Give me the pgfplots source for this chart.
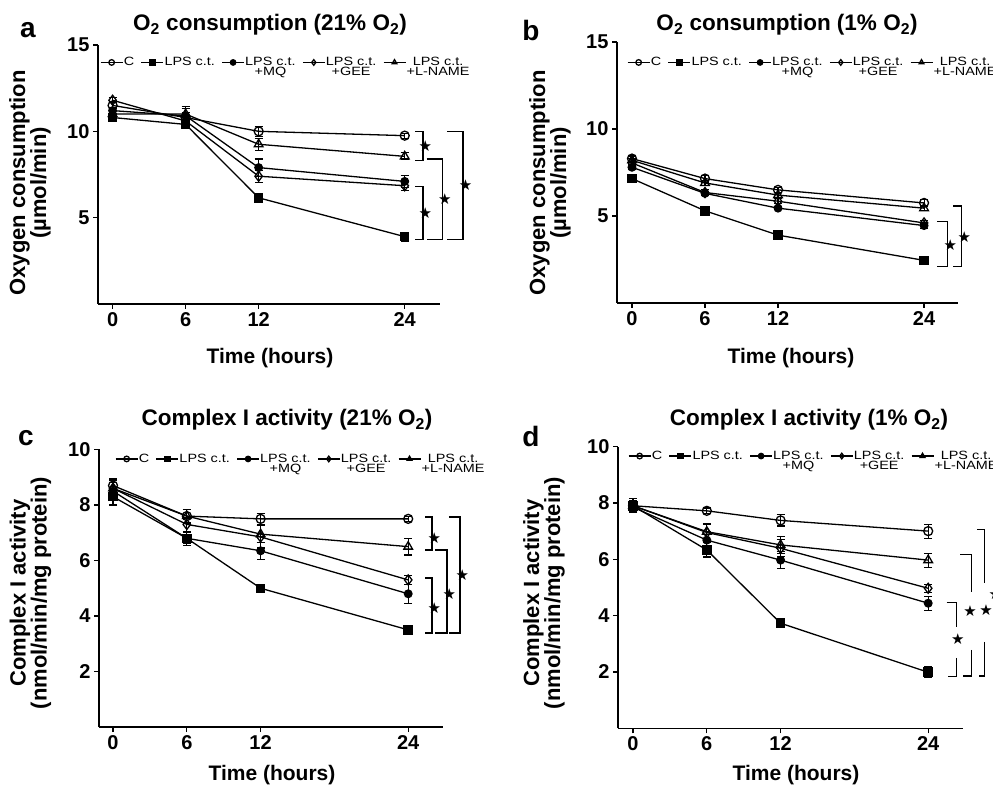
\documentclass[border=0pt]{standalone}
\usepackage{fontspec}
\setmainfont{Liberation Sans}
\newfontfamily\djv{DejaVu Sans}
\newfontfamily\legfont[FakeStretch=1.2]{Liberation Sans}
\usepackage{pgfplots}
\usepackage{pgfplotstable}
\pgfplotsset{compat=1.18}

\newcommand\two[2]{\begin{tabular}[t]{@{}c@{}}#1\\[-2pt]#2\end{tabular}}
\newcommand\st{{\djv\fontsize{15}{15}\selectfont ★}}
% bracket: x1, x2, ytop, ybot, ystar
\newcommand\brk[5]{%
  \draw[line width=1.3pt] (axis cs:#1,#3) -- (axis cs:#2,#3) -- (axis cs:#2,#4) -- (axis cs:#1,#4);
  \node[inner sep=0pt] at (axis cs:#2,#5) [xshift=2.5pt] {\st};}

% t, C, LPS, MQ, GEE, L-NAME (value, error)
\pgfplotstableread{
t  c    ce   l    le   m    me   g    ge   n    ne
0  11.5 0.2  10.8 0.2  11.2 0.2  11.8 0.15 11.0 0.2
6  10.8 0.3  10.4 0.2  10.9 0.55 10.6 0.3  11.0 0.3
12 10.0 0.3  6.15 0.25 7.9  0.5  7.4  0.35 9.25 0.35
24 9.75 0.15 3.9  0.25 7.1  0.35 6.85 0.3  8.55 0.2
}\dataA
\pgfplotstableread{
t  c    ce   l    le   m    me   g    ge   n    ne
0  8.3  0.15 7.15 0.1  7.8  0.1  8.05 0.1  8.2  0.1
6  7.15 0.2  5.3  0.25 6.3  0.1  6.35 0.15 6.9  0.15
12 6.5  0.15 3.9  0.1  5.45 0.1  5.85 0.15 6.2  0.15
24 5.75 0.2  2.45 0.1  4.45 0.15 4.6  0.15 5.45 0.15
}\dataB
\pgfplotstableread{
t  c    ce   l    le   m    me   g    ge   n    ne
0  8.7  0.25 8.3  0.3  8.5  0.3  8.6  0.2  8.6  0.3
6  7.6  0.25 6.8  0.25 6.8  0.2  7.3  0.25 7.6  0.25
12 7.5  0.2  5.0  0.15 6.35 0.3  6.85 0.4  6.95 0.3
24 7.5  0.1  3.5  0.15 4.8  0.35 5.3  0.15 6.5  0.3
}\dataC
\pgfplotstableread{
t  c    ce   l    le   m    me   g    ge   n    ne
0  7.9  0.2  7.9  0.25 7.85 0.2  7.9  0.2  7.9  0.2
6  7.72 0.1  6.33 0.25 6.68 0.3  6.95 0.3  6.98 0.3
12 7.38 0.2  3.73 0.15 5.97 0.3  6.39 0.3  6.51 0.3
24 7.0  0.25 1.99 0.2  4.44 0.25 4.97 0.15 5.97 0.25
}\dataD

\pgfplotsset{
  panel/.style={
    scale only axis, anchor=south west, clip=false,
    axis lines=left, axis line style={-, line width=1.5pt},
    tick align=outside, major tick length=5pt,
    tick style={line width=1.3pt, black},
    xtick={0,6,12,24},
    ticklabel style={font=\fontsize{20}{20}\selectfont\bfseries},
    /pgf/number format/assume math mode=true,
    legend columns=5,
    legend cell align=left,
    legend style={draw=none, fill=none, inner sep=0pt, outer sep=0pt,
      font=\legfont\fontsize{12}{12}\selectfont,
      at={(axis description cs:0,1)}, anchor=north west,
      nodes={inner sep=0.5pt},
      /tikz/every even column/.append style={column sep=6pt}},
    legend image code/.code={\draw[mark repeat=2, mark phase=2, ##1, mark size=2.8pt]
      plot coordinates {(0pt,0pt) (11pt,0pt) (22pt,0pt)};},
  },
  ser/.style={black, line width=1.3pt, mark options={solid, line width=1.1pt},
    error bars/y dir=both, error bars/y explicit,
    error bars/error bar style={line width=1.1pt},
    error bars/error mark options={rotate=90, mark size=4pt, line width=1.1pt}},
  sC/.style={ser, mark=o, mark size=4.5pt, mark options={fill=white}},
  sL/.style={ser, mark=square*, mark size=4.2pt},
  sM/.style={ser, mark=*, mark size=3.9pt},
  sG/.style={ser, mark=diamond, mark size=5pt, mark options={fill=white}},
  sN/.style={ser, mark=triangle, mark size=5pt, mark options={fill=white}},
}

\newcommand\allplots[1]{%
  \addplot[sC] table[x=t, y=c, y error=ce] {#1};
  \addplot[sL] table[x=t, y=l, y error=le] {#1};
  \addplot[sM] table[x=t, y=m, y error=me] {#1};
  \addplot[sG] table[x=t, y=g, y error=ge] {#1};
  \addplot[sN] table[x=t, y=n, y error=ne] {#1};
  \legend{C, LPS c.t., \two{LPS c.t.}{+MQ}, \two{LPS c.t.}{+GEE}, \two{LPS c.t.}{+L-NAME}}}

\begin{document}
\begin{tikzpicture}

% a
\begin{axis}[panel, at={(98pt,481pt)}, width=342pt, height=259pt,
  xmin=-1.2, xmax=26.9, ymin=0, ymax=15, ytick={5,10,15},
  legend style={xshift=2pt, yshift=-12pt}]
\allplots{\dataA}
\brk{24.85}{25.5}{10.0}{8.3}{9.15}
\brk{24.85}{25.5}{6.8}{3.75}{5.25}
\brk{25.8}{27.1}{8.4}{3.75}{6.05}
\brk{27.5}{28.8}{10.0}{3.75}{6.9}
\end{axis}

% b
\begin{axis}[panel, at={(617pt,482pt)}, width=341pt, height=261pt,
  xmin=-1.23, xmax=26.79, ymin=0, ymax=15, ytick={5,10,15},
  legend style={xshift=10pt, yshift=-15pt}]
\allplots{\dataB}
\brk{25.1}{25.95}{4.7}{2.1}{3.33}
\brk{26.4}{27.1}{5.57}{2.1}{3.81}
\end{axis}

% c
\begin{axis}[panel, at={(99pt,58pt)}, width=344pt, height=277.5pt,
  xmin=-1.14, xmax=26.83, ymin=0, ymax=10, ytick={2,4,6,8,10},
  legend style={xshift=16pt, yshift=-4pt}]
\allplots{\dataC}
\brk{25.37}{25.93}{7.57}{6.38}{6.81}
\brk{25.37}{25.93}{5.37}{3.39}{4.29}
\brk{26.2}{27.15}{6.38}{3.39}{4.79}
\brk{27.3}{28.2}{7.57}{3.39}{5.48}
\end{axis}

% d
\begin{axis}[panel, at={(618pt,56.7pt)}, width=345pt, height=281.7pt,
  xmin=-1.22, xmax=26.83, ymin=0, ymax=10, ytick={2,4,6,8,10},
  legend style={xshift=10pt, yshift=-4pt}]
\allplots{\dataD}
\draw[line width=1.3pt] (axis cs:25.5,4.46) -- (axis cs:26.3,4.46) -- (axis cs:26.3,3.61);
\draw[line width=1.3pt] (axis cs:26.3,2.5) -- (axis cs:26.3,1.83) -- (axis cs:25.6,1.83);
\node[inner sep=0pt] at (axis cs:26.4,3.17) {\st};
\draw[line width=1.3pt] (axis cs:26.6,6.18) -- (axis cs:27.5,6.18) -- (axis cs:27.5,4.85);
\draw[line width=1.3pt] (axis cs:27.5,2.78) -- (axis cs:27.5,1.86) -- (axis cs:26.8,1.86);
\node[inner sep=0pt] at (axis cs:27.4,4.17) {\st};
\draw[line width=1.3pt] (axis cs:28.0,7.06) -- (axis cs:28.6,7.06) -- (axis cs:28.6,5.15);
\draw[line width=1.3pt] (axis cs:28.55,3.07) -- (axis cs:28.55,1.86) -- (axis cs:28.1,1.86);
\node[inner sep=0pt] at (axis cs:28.7,4.2) {\st};
\draw[line width=1.3pt] (axis cs:29.6,7.5) -- (axis cs:29.9,7.5) -- (axis cs:29.9,5.3);
\node[inner sep=0pt] at (axis cs:29.45,4.77) {\st};
\end{axis}

% titles, labels, panel letters
\begin{scope}[x=1pt, y=1pt]
\begin{scope}[every node/.style={font=\fontsize{22.5}{22.5}\selectfont\bfseries}]
\node at (270,760) {O\textsubscript{2} consumption (21\% O\textsubscript{2})};
\node at (787,760) {O\textsubscript{2} consumption (1\% O\textsubscript{2})};
\node at (287,365) {Complex I activity (21\% O\textsubscript{2})};
\node at (809,365) {Complex I activity (1\% O\textsubscript{2})};
\end{scope}
\begin{scope}[every node/.style={font=\fontsize{22}{21}\selectfont\bfseries, align=center}]
\node[rotate=90] at (30,602) {Oxygen consumption\\(µmol/min)};
\node[rotate=90] at (550,602) {Oxygen consumption\\(µmol/min)};
\node[rotate=90] at (30.5,192) {Complex I activity\\(nmol/min/mg protein)};
\node[rotate=90] at (544,192) {Complex I activity\\(nmol/min/mg protein)};
\end{scope}
\begin{scope}[every node/.style={font=\fontsize{21}{21}\selectfont\bfseries}]
\node at (270,427) {Time (hours)};
\node at (791,427) {Time (hours)};
\node at (272,10) {Time (hours)};
\node at (796,10) {Time (hours)};
\end{scope}
\begin{scope}[every node/.style={font=\fontsize{28}{28}\selectfont\bfseries}]
\node at (28,755) {a};
\node at (531,755) {b};
\node at (26,347) {c};
\node at (531,349) {d};
\end{scope}
\pgfresetboundingbox
\path[use as bounding box] (0,0) rectangle (993,785);
\end{scope}
\end{tikzpicture}
\end{document}
